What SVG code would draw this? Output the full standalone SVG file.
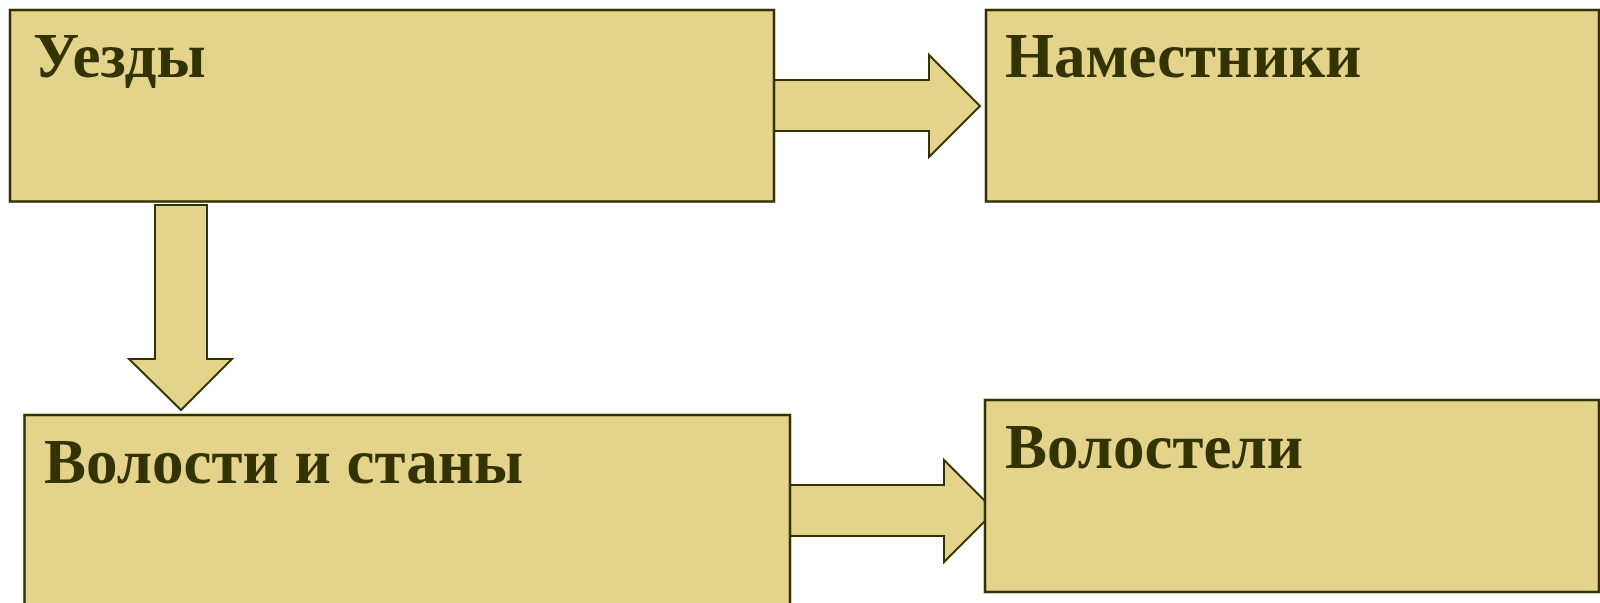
<svg xmlns="http://www.w3.org/2000/svg" width="1600" height="603" viewBox="0 0 1600 603">
<style>
.box{fill:#E4D48B;stroke:#333300;stroke-width:2.5}
.arr{fill:#E4D48B;stroke:#333300;stroke-width:2;stroke-linejoin:miter}
.lbl{font-family:"Liberation Serif","Times New Roman",serif;font-weight:bold;font-size:63px;fill:#333300}
</style>
<rect width="1600" height="603" fill="#ffffff"/>
<g id="connectors">
<polygon id="arrow-uezdy-namestniki" class="arr" points="774,80 929,80 929,55 980,106 929,157 929,131 774,131"/>
<polygon id="arrow-uezdy-volosti" class="arr" points="155,205 207,205 207,359 232,359 181,410 129,359 155,359"/>
<polygon id="arrow-volosti-volosteli" class="arr" points="790,485 944,485 944,460 995,511 944,562 944,536 790,536"/>
</g>
<g id="node-uezdy">
<rect class="box" x="10" y="10" width="764" height="191.5"/>
<text class="lbl" x="33" y="77">Уезды</text>
</g>
<g id="node-namestniki">
<rect class="box" x="986" y="10" width="613" height="191.5"/>
<text class="lbl" x="1005" y="77">Наместники</text>
</g>
<g id="node-volosti">
<rect class="box" x="24.5" y="415" width="765.5" height="200"/>
<text class="lbl" x="44" y="483">Волости и станы</text>
</g>
<g id="node-volosteli">
<rect class="box" x="985" y="400" width="614" height="192"/>
<text class="lbl" x="1005" y="468">Волостели</text>
</g>
</svg>
